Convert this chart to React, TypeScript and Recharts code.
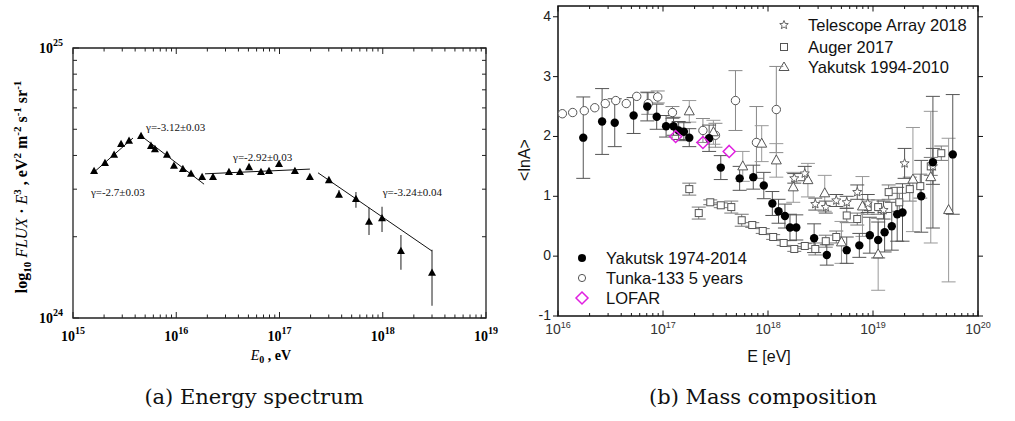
import React from 'react';
import { ComposedChart, Scatter, XAxis, YAxis, ErrorBar, ReferenceArea, Customized } from 'recharts';

// ---------- (a) Energy spectrum ----------
const spectrumEnergy = [1.6e15, 2.04e15, 2.5e15, 2.92e15, 3.49e15, 4.56e15, 5.69e15, 6.22e15, 8.13e15, 9.5e15, 1.16e16, 1.39e16, 1.78e16, 2.27e16, 3.24e16, 4.14e16, 5.07e16, 6.62e16, 7.91e16, 9.89e16, 1.41e17, 1.97e17, 3.01e17, 3.77e17, 5.5e17, 7.36e17, 9.84e17, 1.5e18, 3.0e18];
const spectrumFlux = [3.5e24, 3.75e24, 4.02e24, 4.41e24, 4.53e24, 4.72e24, 4.34e24, 4.22e24, 4.02e24, 3.66e24, 3.56e24, 3.42e24, 3.33e24, 3.33e24, 3.47e24, 3.47e24, 3.62e24, 3.47e24, 3.5e24, 3.72e24, 3.5e24, 3.33e24, 3.24e24, 2.86e24, 2.76e24, 2.27e24, 2.34e24, 1.77e24, 1.47e24];
const spectrumErrLow = [0, 0, 0, 0, 0, 0, 0, 0, 0, 0, 0, 0, 0, 0, 0, 0, 0, 0, 0, 0, 0, 0, 0, 0.06e24, 0.2e24, 0.24e24, 0.26e24, 0.26e24, 0.36e24];
const spectrumErrHigh = [0, 0, 0, 0, 0, 0, 0, 0, 0, 0, 0, 0, 0, 0, 0, 0, 0, 0, 0, 0, 0, 0, 0, 0.12e24, 0.17e24, 0.29e24, 0.24e24, 0.26e24, 0.32e24];

const fitStartE = [1.6e15, 4.46e15, 1.9e16, 2.36e17];
const fitEndE = [3.81e15, 1.86e16, 1.97e17, 3.0e18];
const fitStartF = [3.47e24, 4.76e24, 3.42e24, 3.45e24];
const fitEndF = [4.64e24, 3.13e24, 3.56e24, 1.77e24];

const gammaLabels = ['γ=-3.12±0.03', 'γ=-2.7±0.03', 'γ=-2.92±0.03', 'γ=-3.24±0.04'];
const gammaE = [5.1e15, 1.49e15, 3.55e16, 1.0e18];
const gammaF = [4.93e24, 2.83e24, 3.81e24, 2.83e24];

// ---------- (b) Mass composition ----------
const yak74E = [1.74e16, 2.63e16, 3.47e16, 5.25e16, 7.08e16, 8.71e16, 1.07e17, 1.26e17, 1.41e17, 1.58e17, 1.78e17, 2.75e17, 3.55e17, 5.37e17, 7.24e17, 9.12e17, 1.10e18, 1.26e18, 1.45e18, 1.62e18, 1.86e18, 2.75e18, 3.63e18, 5.62e18, 7.41e18, 9.33e18, 1.12e19, 1.29e19, 1.51e19, 1.70e19, 1.91e19, 2.88e19, 3.72e19, 5.75e19];
const yak74LnA = [1.98, 2.25, 2.23, 2.35, 2.5, 2.33, 2.17, 2.17, 2.1, 2.08, 1.98, 1.97, 1.48, 1.3, 1.32, 1.18, 0.88, 0.75, 0.67, 0.48, 0.48, 0.3, 0.02, 0.1, 0.18, 0.35, 0.27, 0.4, 0.5, 0.7, 0.73, 1.0, 1.57, 1.7];
const yak74Err = [0.68, 0.55, 0.4, 0.3, 0.24, 0.21, 0.18, 0.15, 0.15, 0.15, 0.15, 0.22, 0.2, 0.2, 0.2, 0.22, 0.2, 0.2, 0.2, 0.22, 0.21, 0.24, 0.17, 0.22, 0.2, 0.3, 0.3, 0.33, 0.4, 0.45, 0.48, 0.6, 1.1, 1.0];

const tunkaE = [1.10e16, 1.38e16, 1.78e16, 2.24e16, 2.82e16, 3.55e16, 4.47e16, 5.62e16, 7.24e16, 8.91e16, 1.23e17, 2.40e17, 3.16e17, 4.90e17, 7.76e17, 1.20e18];
const tunkaLnA = [2.38, 2.40, 2.43, 2.48, 2.55, 2.60, 2.55, 2.67, 2.55, 2.66, 2.40, 2.10, 2.02, 2.60, 1.90, 2.45];
const tunkaErr = [0, 0, 0, 0, 0, 0, 0, 0, 0.18, 0.1, 0.1, 0.2, 0.2, 0.5, 0.6, 0.72];

const augerE = [1.78e17, 2.19e17, 2.82e17, 3.55e17, 4.47e17, 5.62e17, 7.08e17, 8.91e17, 1.12e18, 1.41e18, 1.78e18, 2.24e18, 2.82e18, 3.55e18, 4.47e18, 5.62e18, 7.08e18, 8.91e18, 1.12e19, 1.41e19, 1.78e19, 2.24e19, 2.82e19, 3.55e19, 4.47e19];
const augerLnA = [1.12, 0.72, 0.9, 0.85, 0.82, 0.6, 0.52, 0.42, 0.32, 0.22, 0.12, 0.17, 0.12, 0.25, 0.32, 0.68, 0.62, 0.82, 0.82, 1.07, 0.9, 1.12, 1.17, 1.5, 1.72];
const augerErr = [0.1, 0.1, 0.04, 0.04, 0.1, 0.1, 0.04, 0.04, 0.04, 0.04, 0.04, 0.04, 0.1, 0.1, 0.1, 0.12, 0.1, 0.12, 0.12, 0.12, 0.15, 0.2, 0.2, 0.15, 0.12];

const taE = [1.78e18, 2.24e18, 2.82e18, 3.55e18, 4.47e18, 5.62e18, 7.08e18, 8.91e18, 1.26e19, 2.00e19, 3.72e19];
const taLnA = [1.3, 1.38, 0.87, 0.82, 0.93, 0.9, 1.07, 0.88, 0.77, 1.55, 1.5];
const taErr = [0.08, 0.12, 0.1, 0.1, 0.1, 0.1, 0.12, 0.15, 0.15, 0.25, 0.3];

const yak94E = [1.78e17, 3.02e17, 5.75e17, 8.71e17, 1.20e18, 1.74e18, 2.40e18, 3.47e18, 5.01e18, 7.94e18, 1.12e19, 2.40e19, 3.55e19, 5.25e19];
const yak94LnA = [2.42, 2.07, 1.5, 1.88, 1.6, 1.15, 1.27, 1.05, 0.23, 0.83, 0.03, 1.28, 1.32, 0.77];
const yak94Err = [0.18, 0.2, 0.25, 0.3, 0.28, 0.25, 0.28, 0.3, 0.35, 0.5, 0.6, 0.87, 1.1, 1.2];

const lofarE = [1.32e17, 2.40e17, 4.27e17];
const lofarLnA = [2.0, 1.9, 1.75];

const elementNames = ['Fe', 'N', 'He', 'H'];
const elementLnA = [4.03, 2.64, 1.25, 0];
const lnATicks = [-1, 0, 1, 2, 3, 4];

// ---------- helpers ----------
const logTicks = (lo: number, hi: number) => {
  const out: number[] = [];
  for (let n = lo; n < hi; n++) for (let k = 1; k < 10; k++) out.push(k * Math.pow(10, n));
  out.push(Math.pow(10, hi));
  return out;
};
const decomp = (v: number) => {
  const exp = Math.floor(Math.log10(v) + 1e-9);
  const mant = Math.round(v / Math.pow(10, exp));
  return { exp, major: mant === 1 };
};

const spectrumData = spectrumEnergy.map((e, i) => ({ e, f: spectrumFlux[i], err: [spectrumErrLow[i], spectrumErrHigh[i]] }));
const fitData = fitStartE.map((_, i) => [
  { e: fitStartE[i], f: fitStartF[i] },
  { e: fitEndE[i], f: fitEndF[i] },
]);
const gammaData = gammaLabels.map((label, i) => ({ e: gammaE[i], f: gammaF[i], label }));

const mk = (E: number[], V: number[], Er?: number[]) => E.map((e, i) => ({ e, v: V[i], err: Er ? Er[i] : 0 }));
const yak74Data = mk(yak74E, yak74LnA, yak74Err);
const tunkaData = mk(tunkaE, tunkaLnA, tunkaErr);
const augerData = mk(augerE, augerLnA, augerErr);
const taData = mk(taE, taLnA, taErr);
const yak94Data = mk(yak94E, yak94LnA, yak94Err);
const lofarData = mk(lofarE, lofarLnA);
const elementData = elementNames.map((name, i) => ({ e: 1e20, v: elementLnA[i], name }));

// ---------- geometry ----------
const SERIF = 'Liberation Serif, Times New Roman, serif';
const SANS = 'Liberation Sans, Arial, sans-serif';
const CAPTION = 'DejaVu Serif, serif';

const L = { left: 73, right: 486, top: 48, bottom: 318 };
const R = { left: 58, right: 478, top: 6, bottom: 316 }; // relative to right chart (page x - 500)

// ---------- shapes ----------
const solidTriangle = (p: any) => (
  <polygon points={`${p.cx},${p.cy - 4.3} ${p.cx - 4},${p.cy + 3} ${p.cx + 4},${p.cy + 3}`} fill="#000" />
);
const emptyShape = () => <g />;
const gammaText = (p: any) => (
  <text x={p.cx} y={p.cy} fontFamily={SERIF} fontSize={11} fill="#111">{p.payload.label}</text>
);
const filledCircle = (p: any) => <circle cx={p.cx} cy={p.cy} r={4.2} fill="#000" />;
const openCircle = (p: any) => <circle cx={p.cx} cy={p.cy} r={4.2} fill="#fff" stroke="#555" strokeWidth={1} />;
const openSquare = (p: any) => <rect x={p.cx - 3.5} y={p.cy - 3.5} width={7} height={7} fill="#fff" stroke="#555" strokeWidth={1} />;
const openTriangle = (p: any) => (
  <polygon points={`${p.cx},${p.cy - 5.5} ${p.cx - 5},${p.cy + 3.5} ${p.cx + 5},${p.cy + 3.5}`} fill="#fff" stroke="#555" strokeWidth={1} />
);
const starPoints = (cx: number, cy: number, ro: number, ri: number) => {
  const pts: string[] = [];
  for (let i = 0; i < 10; i++) {
    const r = i % 2 === 0 ? ro : ri;
    const a = -Math.PI / 2 + (i * Math.PI) / 5;
    pts.push(`${(cx + r * Math.cos(a)).toFixed(2)},${(cy + r * Math.sin(a)).toFixed(2)}`);
  }
  return pts.join(' ');
};
const openStar = (p: any) => <polygon points={starPoints(p.cx, p.cy, 4.8, 2.1)} fill="#fff" stroke="#555" strokeWidth={0.9} />;
const diamond = (p: any) => (
  <polygon points={`${p.cx},${p.cy - 6} ${p.cx + 6},${p.cy} ${p.cx},${p.cy + 6} ${p.cx - 6},${p.cy}`} fill="none" stroke="#e020e0" strokeWidth={1.5} />
);
const elementText = (p: any) => (
  <text x={p.cx + 10} y={p.cy + 5.5} fontFamily={SANS} fontSize={15.5} fill="#111">{p.payload.name}</text>
);

// ---------- ticks ----------
const SpecXTick = (props: any) => {
  const { x, payload } = props;
  const { exp, major } = decomp(payload.value);
  const len = major ? 6 : 3.5;
  return (
    <g>
      <line x1={x} x2={x} y1={L.bottom} y2={L.bottom - len} stroke="#222" />
      <line x1={x} x2={x} y1={L.top} y2={L.top + len} stroke="#222" />
      {major && (
        <text x={x} y={341} textAnchor="middle" fontFamily={SERIF} fontWeight="bold" fontSize={14} fill="#000">
          10<tspan dy={-7} fontSize={10}>{exp}</tspan>
        </text>
      )}
    </g>
  );
};
const SpecYTick = (props: any) => {
  const { y, payload } = props;
  const { exp, major } = decomp(payload.value);
  const len = major ? 6 : 4;
  return (
    <g>
      <line x1={L.left} x2={L.left + len} y1={y} y2={y} stroke="#222" />
      <line x1={L.right} x2={L.right - len} y1={y} y2={y} stroke="#222" />
      {major && (
        <text x={63} y={y + 5} textAnchor="end" fontFamily={SERIF} fontWeight="bold" fontSize={14} fill="#000">
          10<tspan dy={-7} fontSize={10}>{exp}</tspan>
        </text>
      )}
    </g>
  );
};
const MassXTick = (props: any) => {
  const { x, payload } = props;
  const { exp, major } = decomp(payload.value);
  const len = major ? 5.5 : 3;
  return (
    <g>
      <line x1={x} x2={x} y1={R.bottom} y2={R.bottom - len} stroke="#111" />
      <line x1={x} x2={x} y1={R.top} y2={R.top + len} stroke="#111" />
      {major && (
        <text x={x} y={334} textAnchor="middle" fontFamily={SANS} fontSize={14} fill="#333">
          10<tspan dy={-6} fontSize={9}>{exp}</tspan>
        </text>
      )}
    </g>
  );
};
const MassYTick = (props: any) => {
  const { y, payload } = props;
  return (
    <g>
      <line x1={R.left - 5} x2={R.left} y1={y} y2={y} stroke="#111" />
      <line x1={R.right} x2={R.right + 5} y1={y} y2={y} stroke="#111" />
      <text x={R.left - 7} y={y + 4} textAnchor="end" fontFamily={SANS} fontSize={14} fill="#222">{payload.value}</text>
    </g>
  );
};

// ---------- decorations ----------
const SpectrumDecor = () => (
  <g>
    <text transform="rotate(-90, 27, 187)" x={27} y={187} textAnchor="middle" fontFamily={SERIF} fontWeight="bold" fontSize={16} fill="#000">
      log<tspan dy={4} fontSize={11}>10</tspan>
      <tspan dy={-4} fontStyle="italic" fontWeight="normal"> FLUX</tspan>
      <tspan> · </tspan>
      <tspan fontStyle="italic" fontWeight="normal">E</tspan>
      <tspan dy={-6} fontSize={11}>3</tspan>
      <tspan dy={6}> , eV</tspan>
      <tspan dy={-6} fontSize={11}>2</tspan>
      <tspan dy={6}> m</tspan>
      <tspan dy={-6} fontSize={11}>-2</tspan>
      <tspan dy={6}> s</tspan>
      <tspan dy={-6} fontSize={11}>-1</tspan>
      <tspan dy={6}> sr</tspan>
      <tspan dy={-6} fontSize={11}>-1</tspan>
    </text>
    <text x={271} y={360} textAnchor="middle" fontFamily={SERIF} fontWeight="bold" fontSize={14} fill="#000">
      <tspan fontStyle="italic" fontWeight="normal">E</tspan>
      <tspan dy={3} fontSize={10}>0</tspan>
      <tspan dy={-3}> , eV</tspan>
    </text>
    <text x={254} y={404} textAnchor="middle" fontFamily={CAPTION} fontSize={21} fill="#111">(a) Energy spectrum</text>
  </g>
);

const legendText = (x: number, y: number, s: string) => (
  <text x={x} y={y + 6} fontFamily={SANS} fontSize={16.5} fill="#111">{s}</text>
);
const MassDecor = () => (
  <g>
    <text transform="rotate(-90, 30, 160)" x={30} y={160} textAnchor="middle" fontFamily={SANS} fontSize={16} fill="#111">{'<lnA>'}</text>
    <text x={269} y={362} textAnchor="middle" fontFamily={SANS} fontSize={16} fill="#111">E [eV]</text>
    <text x={263} y={404} textAnchor="middle" fontFamily={CAPTION} fontSize={21} fill="#111">(b) Mass composition</text>
    {/* upper-right legend */}
    <polygon points={starPoints(284, 25, 4.5, 2)} fill="#fff" stroke="#555" strokeWidth={0.9} />
    {legendText(308, 25, 'Telescope Array 2018')}
    <rect x={280.5} y={43.5} width={7} height={7} fill="#fff" stroke="#555" />
    {legendText(308, 47, 'Auger 2017')}
    <polygon points={`284,62 279,70.5 289,70.5`} fill="#fff" stroke="#555" />
    {legendText(308, 67, 'Yakutsk 1994-2010')}
    {/* lower-left legend */}
    <circle cx={82} cy={258} r={4} fill="#000" />
    {legendText(106, 258, 'Yakutsk 1974-2014')}
    <circle cx={82} cy={278} r={3.6} fill="#fff" stroke="#555" />
    {legendText(106, 278, 'Tunka-133 5 years')}
    <polygon points="82,292 88,298 82,304 76,298" fill="none" stroke="#e020e0" strokeWidth={1.5} />
    {legendText(106, 298, 'LOFAR')}
  </g>
);

const specXTicks = logTicks(15, 19);
const specYTicks = logTicks(24, 25);
const massXTicks = logTicks(16, 20);

export default function App() {
  return (
    <div style={{ position: 'absolute', left: 0, top: 0, width: 1015, height: 421, background: '#fff' }}>
      <div style={{ position: 'absolute', left: 0, top: 0 }}>
        <ComposedChart width={500} height={421} margin={{ top: L.top, right: 500 - L.right, bottom: 421 - L.bottom - 40, left: 0 }}>
          <XAxis dataKey="e" type="number" scale="log" domain={[1e15, 1e19]} allowDataOverflow ticks={specXTicks} interval={0} tick={<SpecXTick />} tickLine={false} axisLine={false} height={40} />
          <YAxis dataKey="f" type="number" scale="log" domain={[1e24, 1e25]} allowDataOverflow ticks={specYTicks} interval={0} tick={<SpecYTick />} tickLine={false} axisLine={false} width={L.left} />
          <ReferenceArea x1={1e15} x2={1e19} y1={1e24} y2={1e25} fill="#fff" fillOpacity={0} stroke="#222" strokeWidth={1.3} />
          {fitData.map((d, i) => (
            <Scatter key={i} data={d} line={{ stroke: '#111', strokeWidth: 1 }} shape={emptyShape} isAnimationActive={false} />
          ))}
          <Scatter data={spectrumData} shape={solidTriangle} isAnimationActive={false}>
            <ErrorBar dataKey="err" direction="y" width={0} stroke="#444" strokeWidth={1.2} />
          </Scatter>
          <Scatter data={gammaData} shape={gammaText} isAnimationActive={false} />
          <Customized component={SpectrumDecor} />
        </ComposedChart>
      </div>
      <div style={{ position: 'absolute', left: 500, top: 0 }}>
        <ComposedChart width={515} height={421} margin={{ top: R.top, right: 515 - R.right, bottom: 421 - R.bottom - 40, left: 0 }}>
          <XAxis dataKey="e" type="number" scale="log" domain={[1e16, 1e20]} allowDataOverflow ticks={massXTicks} interval={0} tick={<MassXTick />} tickLine={false} axisLine={false} height={40} />
          <YAxis dataKey="v" type="number" domain={[-1, 4.18]} allowDataOverflow ticks={lnATicks} interval={0} tick={<MassYTick />} tickLine={false} axisLine={false} width={R.left} />
          <ReferenceArea x1={1e16} x2={1e20} y1={-1} y2={4.18} fill="#fff" fillOpacity={0} stroke="#111" strokeWidth={1.5} />
          <Scatter data={augerData} shape={openSquare} isAnimationActive={false}>
            <ErrorBar dataKey="err" direction="y" width={7} stroke="#777" strokeWidth={1} />
          </Scatter>
          <Scatter data={tunkaData} shape={openCircle} isAnimationActive={false}>
            <ErrorBar dataKey="err" direction="y" width={7} stroke="#888" strokeWidth={1} />
          </Scatter>
          <Scatter data={yak94Data} shape={openTriangle} isAnimationActive={false}>
            <ErrorBar dataKey="err" direction="y" width={7} stroke="#999" strokeWidth={1} />
          </Scatter>
          <Scatter data={taData} shape={openStar} isAnimationActive={false}>
            <ErrorBar dataKey="err" direction="y" width={7} stroke="#555" strokeWidth={1} />
          </Scatter>
          <Scatter data={yak74Data} shape={filledCircle} isAnimationActive={false}>
            <ErrorBar dataKey="err" direction="y" width={7} stroke="#555" strokeWidth={1} />
          </Scatter>
          <Scatter data={lofarData} shape={diamond} isAnimationActive={false} />
          <Scatter data={elementData} shape={elementText} isAnimationActive={false} />
          <Customized component={MassDecor} />
        </ComposedChart>
      </div>
    </div>
  );
}
